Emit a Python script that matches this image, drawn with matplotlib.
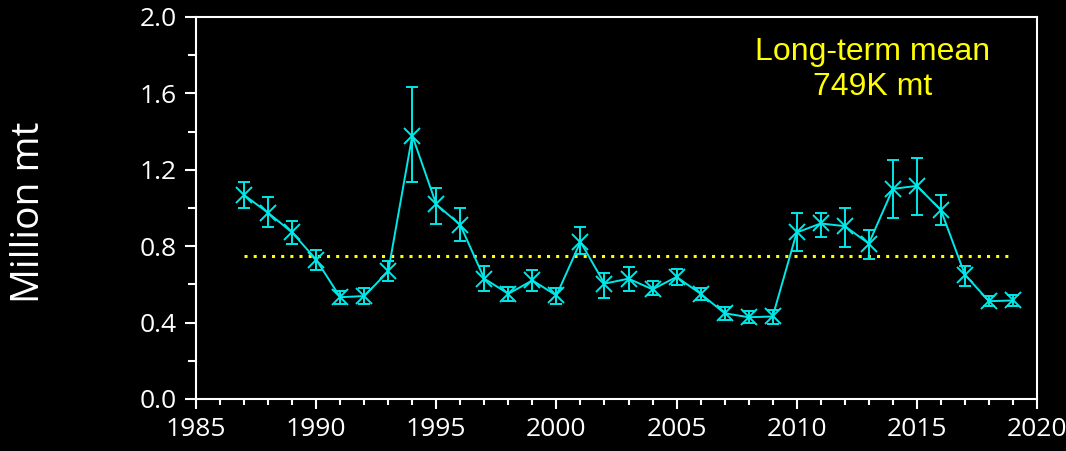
import matplotlib
matplotlib.use("Agg")
import matplotlib.pyplot as plt
from matplotlib.ticker import MultipleLocator

# survey biomass estimates (million mt) with upper / lower error limits
years = list(range(1987, 2020))
biomass = [1.068, 0.975, 0.872, 0.730, 0.533, 0.539, 0.668, 1.379, 1.019, 0.911,
           0.630, 0.551, 0.621, 0.542, 0.823, 0.604, 0.630, 0.574, 0.639, 0.551,
           0.449, 0.428, 0.432, 0.872, 0.919, 0.905, 0.814, 1.100, 1.116, 0.989,
           0.651, 0.512, 0.516]
upper = [1.135, 1.060, 0.930, 0.779, 0.568, 0.583, 0.721, 1.633, 1.105, 1.000,
         0.695, 0.589, 0.674, 0.583, 0.900, 0.660, 0.690, 0.616, 0.682, 0.581,
         0.484, 0.460, 0.467, 0.975, 0.975, 1.000, 0.884, 1.249, 1.263, 1.067,
         0.695, 0.537, 0.546]
lower = [0.998, 0.900, 0.810, 0.674, 0.495, 0.495, 0.616, 1.135, 0.916, 0.826,
         0.563, 0.512, 0.563, 0.498, 0.761, 0.530, 0.563, 0.542, 0.598, 0.519,
         0.414, 0.396, 0.393, 0.774, 0.849, 0.796, 0.735, 0.947, 0.963, 0.911,
         0.591, 0.486, 0.486]
mean_val = 0.749

cyan = "#00E8E8"
err_lo = [b - l for b, l in zip(biomass, lower)]
err_hi = [u - b for u, b in zip(upper, biomass)]

fig = plt.figure(figsize=(10.66, 4.51), dpi=100, facecolor="black")
ax = fig.add_axes([196 / 1066, 1 - 399 / 451, (1037 - 196) / 1066, (399 - 17) / 451])
ax.set_facecolor("black")

ax.plot([years[0], years[-1]], [mean_val, mean_val], color="#FFFF00",
        linestyle=(0, (1, 2)), linewidth=2.2)
ax.errorbar(years, biomass, yerr=[err_lo, err_hi], color=cyan, ecolor=cyan,
            marker="x", markersize=12, markeredgewidth=1.4, linewidth=1.4,
            elinewidth=1.4, capsize=4.5, capthick=1.4)

ax.set_xlim(1985, 2020)
ax.set_ylim(0, 2.0)
ax.xaxis.set_major_locator(MultipleLocator(5))
ax.xaxis.set_minor_locator(MultipleLocator(1))
ax.yaxis.set_major_locator(MultipleLocator(0.4))
ax.yaxis.set_minor_locator(MultipleLocator(0.2))
ax.yaxis.set_major_formatter(plt.FuncFormatter(lambda v, p: f"{v:.1f}"))

for s in ax.spines.values():
    s.set_color("white")
    s.set_linewidth(1.5)
ax.tick_params(axis="both", which="both", colors="white", direction="out", width=1.5)
ax.tick_params(axis="both", which="major", labelsize=19, pad=6)
ax.tick_params(axis="x", which="major", length=7)
ax.tick_params(axis="x", which="minor", length=4)
ax.tick_params(axis="y", which="major", length=8)
ax.tick_params(axis="y", which="minor", length=6)
for lab in ax.get_xticklabels() + ax.get_yticklabels():
    lab.set_family("Open Sans")

fig.text(29 / 1066, 1 - 212 / 451, "Million mt", rotation=90, color="white",
         fontsize=28, family="Open Sans", ha="center", va="center")
ax.text(0.805, 0.862, "Long-term mean\n749K mt", transform=ax.transAxes,
        color="#FFFF00", fontsize=23, family="Liberation Sans",
        ha="center", va="center", linespacing=1.2)

fig.savefig("out.png", dpi=100, facecolor="black")
